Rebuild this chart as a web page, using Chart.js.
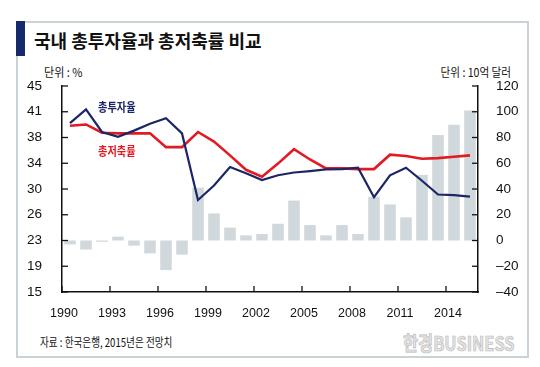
<!DOCTYPE html>
<html><head><meta charset="utf-8">
<script src="https://cdn.jsdelivr.net/npm/chart.js@4"></script>
<style>
body{margin:0;width:540px;height:367px;position:relative;background:#fff;overflow:hidden;font-family:'Noto Sans CJK KR',sans-serif}
.t{position:absolute;white-space:nowrap;line-height:1}
</style></head><body>
<div style="position:absolute;left:16px;top:21px;width:509px;height:333px;border:2px solid #c9d2d6"></div>
<div style="position:absolute;left:16px;top:21px;width:9px;height:35px;background:#152a6c"></div>
<div class="t" style="left:34px;top:31px;font-size:18px;font-weight:bold;color:#111">국내 총투자율과 총저축률 비교</div>
<div class="t" style="left:44px;top:66px;font-size:12px;color:#111;transform:scaleX(0.92);transform-origin:left">단위 : %</div>
<div class="t" style="right:29px;top:66px;font-size:12px;color:#111;transform:scaleX(0.88);transform-origin:right">단위 : 10억 달러</div>
<div class="t" style="left:40px;top:336px;font-size:12px;color:#111;transform:scaleX(0.8);transform-origin:left">자료 : 한국은행, 2015년은 전망치</div>
<div class="t" style="left:403px;top:333px;font-size:20px;font-weight:bold;color:#e4e4e4;-webkit-text-stroke:0.7px #b9b9b9;transform:scaleX(0.82);transform-origin:left">한경BUSINESS</div>
<canvas id="c" width="540" height="367" style="position:absolute;left:0;top:0"></canvas>
<div class="t" style="left:98px;top:101px;font-size:12px;font-weight:bold;color:#1c2566;transform:scaleX(0.85);transform-origin:left">총투자율</div>
<div class="t" style="left:98px;top:145px;font-size:12px;font-weight:bold;color:#e01b22;transform:scaleX(0.85);transform-origin:left">총저축률</div>
<script>
const years = [1990,1991,1992,1993,1994,1995,1996,1997,1998,1999,2000,2001,2002,2003,2004,2005,2006,2007,2008,2009,2010,2011,2012,2013,2014,2015];
const investRate = [39.6,41.6,38.3,37.6,38.5,39.5,40.3,38.1,28.4,30.5,33.2,32.3,31.3,32.0,32.4,32.6,32.85,32.9,33.1,28.8,32.0,33.1,31.2,29.2,29.1,28.9];
const savingRate = [39.2,39.4,38.2,38.1,38.1,38.1,36.1,36.1,38.3,36.9,34.9,32.8,31.8,33.7,35.8,34.3,33.0,33.0,32.9,32.9,35.0,34.8,34.4,34.5,34.7,34.9];
const balance = [-3,-7,-1,3,-4,-10,-23,-11,41,21,10,4,5,13,31,12,4,12,5,34,28,18,51,82,90,101];
const leftTickLabels = ['15','19','23','26','30','34','38','41','45'];
const rightTickLabels = ['–40','–20','0','20','40','60','80','100','120'];
const xTickEvery = 3;

const tickFont = {family:"'Liberation Sans Narrow','Liberation Sans',Arial,sans-serif", size:13.5};
const innerTicks = {
  id:'innerTicks',
  afterDraw(chart){
    const {ctx, chartArea:a, scales} = chart;
    ctx.save(); ctx.strokeStyle='#111'; ctx.lineWidth=1.3;
    const line=(x1,y1,x2,y2)=>{ctx.beginPath();ctx.moveTo(x1,y1);ctx.lineTo(x2,y2);ctx.stroke();};
    scales.y.ticks.forEach((t,i)=>{const p=scales.y.getPixelForTick(i); line(a.left,p,a.left+6,p);});
    scales.y2.ticks.forEach((t,i)=>{const p=scales.y2.getPixelForTick(i); line(a.right-6,p,a.right,p);});
    const x=scales.x; const half=(x.getPixelForValue(1)-x.getPixelForValue(0))/2;
    years.forEach((yr,i)=>{ if(i%xTickEvery===0){const p=x.getPixelForValue(i)-half; line(p,a.bottom,p,a.bottom-6);} });
    ctx.restore();
  }
};
new Chart(document.getElementById('c'),{
  data:{
    labels: years.map(String),
    datasets:[
      {type:'line',label:'총투자율',data:investRate,yAxisID:'y',borderColor:'#1c2566',borderWidth:2.2,pointRadius:0,tension:0,order:0},
      {type:'line',label:'총저축률',data:savingRate,yAxisID:'y',borderColor:'#e01b22',borderWidth:2.6,pointRadius:0,tension:0,order:0},
      {type:'bar',label:'경상수지',data:balance,yAxisID:'y2',backgroundColor:'#d0d8db',barPercentage:0.72,categoryPercentage:1,order:1}
    ]
  },
  options:{
    responsive:false,animation:false,
    layout:{padding:{left:18,right:16,top:86,bottom:40}},
    plugins:{legend:{display:false},tooltip:{enabled:false}},
    scales:{
      x:{type:'category',offset:true,grid:{display:false},border:{display:true,color:'#111',width:1.5},
         ticks:{autoSkip:false,maxRotation:0,padding:6,labelOffset:-6,color:'#111',font:{...tickFont,size:12.5},
           callback:(v,i)=> i%xTickEvery===0 ? String(years[i]) : ''},
         afterFit:s=>{s.height=35;}},
      y:{type:'linear',position:'left',min:15,max:45,grid:{display:false},border:{display:true,color:'#111',width:1.5},
         ticks:{stepSize:3.75,padding:12,color:'#111',font:tickFont,callback:(v,i)=>leftTickLabels[i]},
         afterFit:s=>{s.width=44;}},
      y2:{type:'linear',position:'right',min:-40,max:120,grid:{display:false},border:{display:true,color:'#111',width:1.5},
         ticks:{stepSize:20,padding:10,color:'#111',font:tickFont,callback:(v,i)=>rightTickLabels[i]},
         afterFit:s=>{s.width=46;}}
    }
  },
  plugins:[innerTicks]
});
</script>
</body></html>
